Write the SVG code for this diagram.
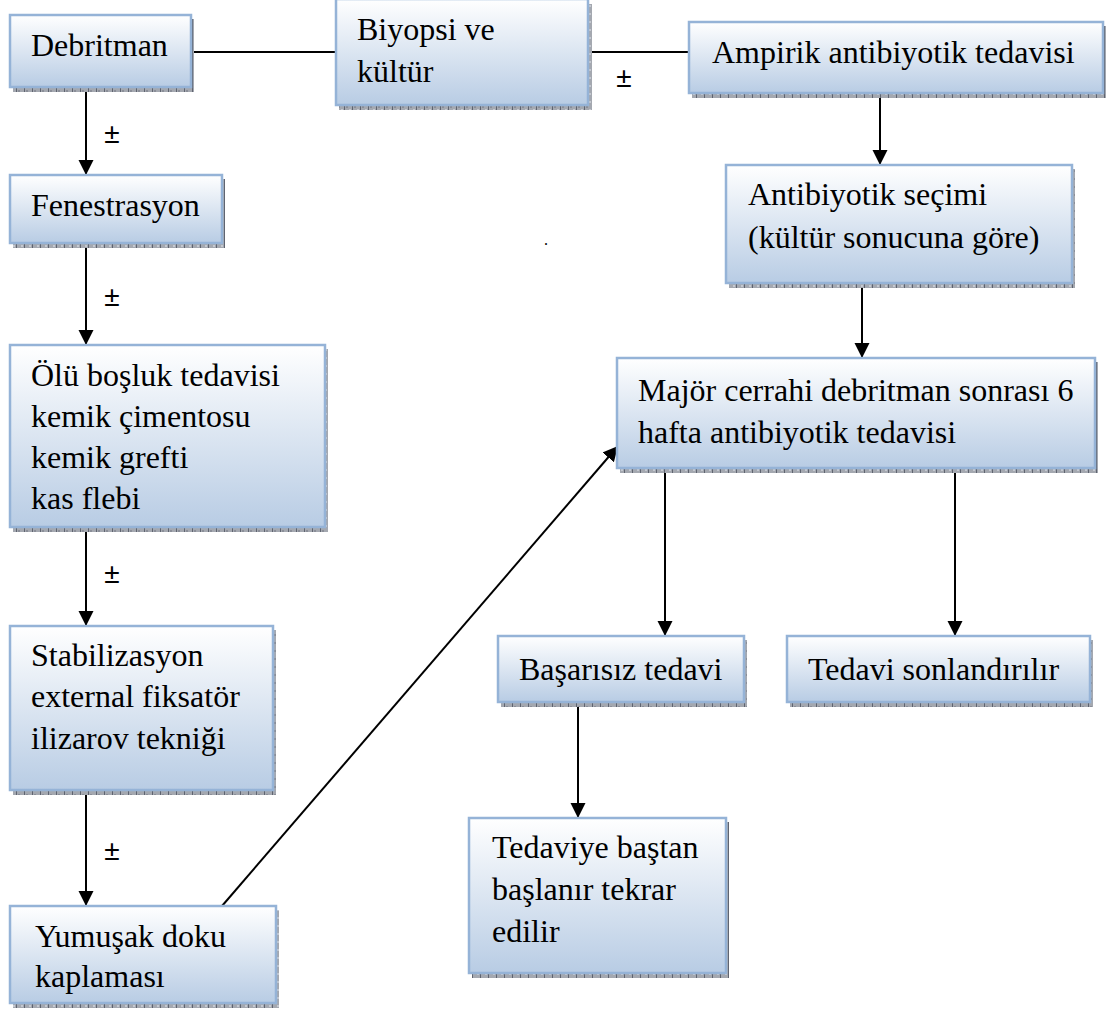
<svg xmlns="http://www.w3.org/2000/svg" width="1109" height="1016" viewBox="0 0 1109 1016">
<style>
.box{fill:url(#g);stroke:#95b3d7;stroke-width:2.5}
.sh{fill:url(#hatch)}
.t{font-family:"Liberation Serif","Times New Roman",serif;font-size:32px;fill:#000}
.pm{font-family:"Liberation Sans",Arial,sans-serif;font-size:28px;fill:#000;text-anchor:middle}
.c{stroke:#000;stroke-width:2;fill:none}
.a{marker-end:url(#arr)}
</style>
<defs>
<linearGradient id="g" x1="0" y1="0" x2="0" y2="1">
<stop offset="0" stop-color="#ffffff"/>
<stop offset="1" stop-color="#b8cce4"/>
</linearGradient>
<pattern id="hatch" width="8" height="8" patternUnits="userSpaceOnUse">
<rect width="8" height="8" fill="#a4a8b0"/>
<rect x="0" y="0" width="1" height="8" fill="#5f6470"/>
<rect x="2" y="2" width="2" height="2" fill="#8a8e98"/>
<rect x="5" y="5" width="2" height="2" fill="#c4c8d0"/>
</pattern>
<marker id="arr" markerUnits="userSpaceOnUse" markerWidth="16" markerHeight="16" viewBox="0 0 16 16" refX="15" refY="8" orient="auto">
<path d="M0,0.5 L15,8 L0,15.5 z" fill="#000"/>
</marker>
</defs>

<g id="connectors">
<line class="c" x1="191" y1="52" x2="336" y2="52"/>
<line class="c" x1="588" y1="52" x2="689" y2="52"/>
<line class="c a" x1="86" y1="88" x2="86" y2="175"/>
<line class="c a" x1="86" y1="244" x2="86" y2="345"/>
<line class="c a" x1="86" y1="527" x2="86" y2="626"/>
<line class="c a" x1="86" y1="791" x2="86" y2="906"/>
<line class="c a" x1="880" y1="93" x2="880" y2="165"/>
<line class="c a" x1="862" y1="283" x2="862" y2="358"/>
<line class="c a" x1="665" y1="468" x2="665" y2="636"/>
<line class="c a" x1="955" y1="468" x2="955" y2="636"/>
<line class="c a" x1="578" y1="702" x2="578" y2="818"/>
<line class="c a" x1="222" y1="906" x2="618" y2="446"/>
<text class="pm" x="112" y="143">±</text>
<text class="pm" x="112" y="306">±</text>
<text class="pm" x="112" y="583">±</text>
<text class="pm" x="112" y="860">±</text>
<text class="pm" x="624" y="87">±</text>
</g>

<g id="debritman">
<rect class="sh" x="13" y="19" width="181" height="73"/>
<rect class="box" x="10" y="15" width="181" height="72"/>
<text class="t" x="31" y="56">Debritman</text>
</g>

<g id="biyopsi">
<rect class="sh" x="339" y="4" width="253" height="106"/>
<rect class="box" x="336" y="-1" width="252" height="106"/>
<text class="t" x="357" y="40">Biyopsi ve</text>
<text class="t" x="357" y="82">kültür</text>
</g>

<g id="ampirik">
<rect class="sh" x="692" y="26" width="414" height="72"/>
<rect class="box" x="689" y="22" width="414" height="71"/>
<text class="t" x="712" y="63">Ampirik antibiyotik tedavisi</text>
</g>

<g id="fenestrasyon">
<rect class="sh" x="13" y="179" width="212" height="69"/>
<rect class="box" x="10" y="175" width="212" height="68"/>
<text class="t" x="31" y="216">Fenestrasyon</text>
</g>

<g id="olu-bosluk">
<rect class="sh" x="13" y="349" width="315" height="183"/>
<rect class="box" x="10" y="345" width="315" height="182"/>
<text class="t" x="31" y="386">Ölü boşluk tedavisi</text>
<text class="t" x="31" y="427">kemik çimentosu</text>
<text class="t" x="31" y="468">kemik grefti</text>
<text class="t" x="31" y="509">kas flebi</text>
</g>

<g id="stabilizasyon">
<rect class="sh" x="13" y="630" width="263" height="165"/>
<rect class="box" x="10" y="626" width="263" height="164"/>
<text class="t" x="31" y="666">Stabilizasyon</text>
<text class="t" x="31" y="707">external fiksatör</text>
<text class="t" x="31" y="749">ilizarov tekniği</text>
</g>

<g id="yumusak-doku">
<rect class="sh" x="13" y="910" width="266" height="98"/>
<rect class="box" x="10" y="906" width="266" height="97"/>
<text class="t" x="35" y="947">Yumuşak doku</text>
<text class="t" x="35" y="987">kaplaması</text>
</g>

<g id="antibiyotik-secimi">
<rect class="sh" x="729" y="169" width="346" height="119"/>
<rect class="box" x="726" y="165" width="346" height="118"/>
<text class="t" x="748" y="205">Antibiyotik seçimi</text>
<text class="t" x="748" y="248">(kültür sonucuna göre)</text>
</g>

<g id="major-cerrahi">
<rect class="sh" x="620" y="362" width="478" height="111"/>
<rect class="box" x="617" y="358" width="478" height="110"/>
<text class="t" x="638" y="401">Majör cerrahi debritman sonrası 6</text>
<text class="t" x="638" y="443">hafta antibiyotik tedavisi</text>
</g>

<g id="basarisiz-tedavi">
<rect class="sh" x="501" y="640" width="246" height="67"/>
<rect class="box" x="498" y="636" width="246" height="66"/>
<text class="t" x="519" y="680">Başarısız tedavi</text>
</g>

<g id="tedavi-sonlandirilir">
<rect class="sh" x="790" y="640" width="303" height="67"/>
<rect class="box" x="787" y="636" width="303" height="66"/>
<text class="t" x="808" y="680">Tedavi sonlandırılır</text>
</g>

<g id="tedaviye-bastan">
<rect class="sh" x="472" y="822" width="257" height="156"/>
<rect class="box" x="469" y="818" width="257" height="155"/>
<text class="t" x="492" y="858">Tedaviye baştan</text>
<text class="t" x="492" y="900">başlanır tekrar</text>
<text class="t" x="492" y="942">edilir</text>
</g>

<text class="t" x="544" y="245" style="font-size:16px">.</text>
</svg>
